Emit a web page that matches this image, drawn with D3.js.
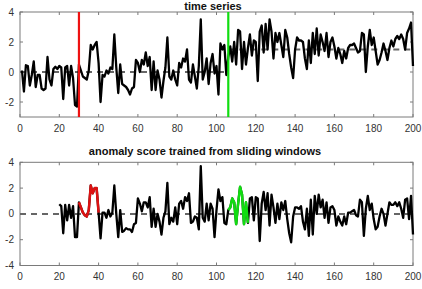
<!DOCTYPE html>
<html>
<head>
  <meta charset="utf-8">
  <title>anomaly score</title>
  <style>
    body { margin: 0; background: #fff; }
    svg { display: block; font-family: "Liberation Sans", Arial, sans-serif; }
    .tick-label { font-size: 10px; fill: #333; }
    .title { font-size: 11px; font-weight: bold; fill: #111; }
  </style>
</head>
<body>
  <svg width="422" height="289"></svg>
  <script src="https://cdnjs.cloudflare.com/ajax/libs/d3/7.8.5/d3.min.js"></script>
  <script>
    // raw time series, t = 1..200
    const timeSeries = [
      0.1, -1.3, 0.45, 0.4, -0.9, -0.2, 0.7, -1.0, -0.2, -0.2,
      -1.1, -1.2, -1.1, 1.0, -0.5, -0.9, 0.2, 0.35, 0.2, 0.4,
      0.3, -1.8, 0.3, 0.4, -0.9, 0.4, -0.4, -2.2, -2.3, 0.5,
      0.1, -0.3, -0.4, -0.5, 0.1, 1.8, 1.5, 1.8, 2.0, 0.6,
      -2.0, -0.2, -0.3, 0.1, -0.1, 0.3, 0.2, 2.5, 0.3, -1.4,
      0.5, -0.8, -0.9, -1.0, -1.2, -1.5, -1.1, -1.0, 0.8, 0.6,
      0.0, 0.8, 0.5, 1.3, 0.4, 1.0, -1.2, 0.7, -1.2, 0.1,
      -0.5, -1.7, -0.6, 0.3, 2.3, -0.3, -0.5, 0.1, -0.5, -0.9,
      0.6, 0.3, 0.9, 0.7, 1.5, -0.5, -0.7, 0.5, -0.3, -1.1,
      0.4, 3.5, -0.5, 0.0, 0.9, -0.8, 0.6, 1.2, -0.1, 0.4,
      -1.5, 1.9, 1.5, 1.8, -0.2, 1.0, 1.7, 0.7, 2.0, 0.5,
      2.8, 2.7, 0.2, 2.0, 0.5, 1.6, 2.5, 1.1, 2.1, 2.0,
      -0.6, 2.7, 3.1, 1.3, 3.2, 1.5, 3.5, 2.7, 0.9, 2.6,
      2.0, 2.6, 1.8, 1.0, 2.8, 2.3, 1.2, 0.3, -0.4, 1.5,
      2.3, 2.1, 2.1, 2.0, 0.9, 0.2, 2.1, 0.6, 2.6, 1.2,
      2.9, 1.1, 2.5, 2.0, 1.4, 2.6, 1.0, 2.0, 2.3, 1.7,
      0.9, 1.6, 1.2, 0.6, 1.4, 0.9, 1.6, 1.8, 1.8, 1.9,
      1.6, 1.3, 1.4, 2.6, 2.5, 0.0, 1.7, 2.8, 1.8, 2.3,
      1.4, 0.5, 0.8, 1.3, 1.9, 1.4, 0.8, 1.6, 2.1, 1.7,
      2.2, 2.4, 2.2, 2.5, 2.2, 1.5, 2.6, 2.9, 3.3, 0.4
    ];
    const seriesStart = 1;

    // anomaly score, t = 20..200
    const anomalyScore = [
      0.75, 0.6, -1.5, 0.7, -0.5, 0.7, -0.3, 0.6, -1.8, -1.8,
      0.9, 0.5, 0.1, -0.1, -0.2, 0.3, 2.2, 1.6, 2.0, 2.0,
      0.1, -1.9, 0.1, 0.1, -0.3, 0.3, -0.2, 0.1, 2.2, 0.0,
      -1.8, 0.3, -1.4, -1.3, -1.1, -1.2, -1.2, -1.4, -0.8, -0.7,
      1.2, 0.8, 0.2, 0.9, 0.9, 0.5, 1.3, -1.0, 0.4, -1.0,
      0.0, -0.6, -1.6, -0.3, 0.2, 2.4, -0.8, -0.3, -0.6, 0.5,
      -0.8, 0.8, 1.0, 0.4, 1.3, 1.0, 1.6, -0.7, -0.6, -0.2,
      -0.3, -1.2, 3.7, -0.3, -0.6, 0.8, -0.5, 0.8, 0.4, -1.8,
      0.3, 1.9, 1.0, 1.3, -0.7, -0.8, 0.3, 0.5, 1.2, 0.9,
      -0.8, 0.8, 2.1, 1.5, -0.8, 0.9, -0.7, 1.2, 1.3, -0.5,
      1.3, 1.2, -2.1, 0.8, 1.7, 0.3, 1.6, -0.9, 1.5, 0.5,
      -0.7, 0.8, -0.4, 0.9, 0.3, 1.0, -0.4, -1.5, -2.2, -0.2,
      0.5, 0.5, 0.4, 0.6, -0.6, -1.2, 0.4, -1.7, 1.1, -1.6,
      1.4, 0.0, 1.5, 0.5, 1.1, -0.3, 0.9, -0.7, 0.5, 0.6,
      0.3, -0.9, -0.2, -0.6, -0.9, -0.2, -0.8, 0.1, 0.1, 0.2,
      0.3, -0.1, -0.2, 1.1, 0.9, -1.7, 0.4, 1.4, 0.3, 0.8,
      -0.4, -1.2, -1.0, -0.2, 0.4, 0.0, -0.9, 0.0, 0.9, 0.7,
      0.7, 0.9, 0.6, 0.9, 0.4, -0.3, 1.1, 1.2, -0.4, 1.4,
      -1.6
    ];
    const scoreStart = 20;

    const xTicks = [0, 20, 40, 60, 80, 100, 120, 140, 160, 180, 200];
    const topYTicks = [-2, 0, 2, 4];
    const bottomYTicks = [-4, -2, 0, 2, 4];

    // mean levels of the series (dashed)
    const levels = [[0, 106, 0], [106, 200, 1.5]];
    // anomaly markers: [t, colour]
    const anomalies = [[30, "#ee1111"], [106, "#11dd11"]];
    // highlighted score windows: [from, to, colour]
    const windows = [[30, 40, "#dd1111"], [106, 116, "#11dd11"]];

    const svg = d3.select("svg");
    const x = d3.scaleLinear().domain([0, 200]).range([20, 413]);
    const yTop = d3.scaleLinear().domain([-3, 4]).range([117, 12]);
    const yBot = d3.scaleLinear().domain([-4, 4]).range([265.5, 162.3]);

    function frame(y, yTicks, title, titleX, titleY, labelY) {
      const g = svg.append("g");
      const [x0, x1] = x.range();
      const [yb, yt] = y.range();
      g.append("rect")
        .attr("x", x0).attr("y", yt)
        .attr("width", x1 - x0).attr("height", yb - yt)
        .attr("fill", "none").attr("stroke", "#7a7a7a").attr("stroke-width", 1);
      xTicks.forEach(t => {
        g.append("line").attr("x1", x(t)).attr("x2", x(t)).attr("y1", yb).attr("y2", yb - 3)
          .attr("stroke", "#7a7a7a");
        g.append("line").attr("x1", x(t)).attr("x2", x(t)).attr("y1", yt).attr("y2", yt + 3)
          .attr("stroke", "#7a7a7a");
        g.append("text").attr("class", "tick-label")
          .attr("x", x(t)).attr("y", labelY).attr("text-anchor", "middle")
          .attr("dy", "0.35em").text(t);
      });
      yTicks.forEach(t => {
        g.append("line").attr("x1", x0).attr("x2", x0 + 3).attr("y1", y(t)).attr("y2", y(t))
          .attr("stroke", "#7a7a7a");
        g.append("line").attr("x1", x1).attr("x2", x1 - 3).attr("y1", y(t)).attr("y2", y(t))
          .attr("stroke", "#7a7a7a");
        g.append("text").attr("class", "tick-label")
          .attr("x", 14).attr("y", y(t)).attr("text-anchor", "end")
          .attr("dy", "0.35em").text(t);
      });
      g.append("text").attr("class", "title")
        .attr("x", titleX).attr("y", titleY).attr("text-anchor", "middle").text(title);
    }

    frame(yTop, topYTicks, "time series", 213, 9.5, 128);
    frame(yBot, bottomYTicks, "anomaly score trained from sliding windows", 205, 155, 276);

    const topPts = timeSeries.map((v, i) => [seriesStart + i, v]);
    const botPts = anomalyScore.map((v, i) => [scoreStart + i, v]);

    // top panel
    svg.append("g").selectAll("line").data(levels).enter().append("line")
      .attr("x1", d => x(d[0])).attr("x2", d => x(d[1]))
      .attr("y1", d => yTop(d[2])).attr("y2", d => yTop(d[2]))
      .attr("stroke", "#666").attr("stroke-width", 2).attr("stroke-dasharray", "6,5");

    const topLine = d3.line().x(d => x(d[0])).y(d => yTop(d[1]));
    svg.append("path").datum(topPts)
      .attr("d", topLine).attr("fill", "none")
      .attr("stroke", "#000").attr("stroke-width", 2.3).attr("stroke-linejoin", "round");

    svg.append("g").selectAll("line").data(anomalies).enter().append("line")
      .attr("x1", d => x(d[0])).attr("x2", d => x(d[0]))
      .attr("y1", yTop(4)).attr("y2", yTop(-3))
      .attr("stroke", d => d[1]).attr("stroke-width", 2.2);

    // bottom panel
    svg.append("line")
      .attr("x1", x(0)).attr("x2", x(200))
      .attr("y1", yBot(0)).attr("y2", yBot(0))
      .attr("stroke", "#666").attr("stroke-width", 2).attr("stroke-dasharray", "6,5");

    const botLine = d3.line().x(d => x(d[0])).y(d => yBot(d[1]));
    svg.append("path").datum(botPts)
      .attr("d", botLine).attr("fill", "none")
      .attr("stroke", "#000").attr("stroke-width", 2.3).attr("stroke-linejoin", "round");

    windows.forEach(w => {
      svg.append("path").datum(botPts.filter(d => d[0] >= w[0] && d[0] <= w[1]))
        .attr("d", botLine).attr("fill", "none")
        .attr("stroke", w[2]).attr("stroke-width", 2.5).attr("stroke-linejoin", "round");
    });
  </script>
</body>
</html>
